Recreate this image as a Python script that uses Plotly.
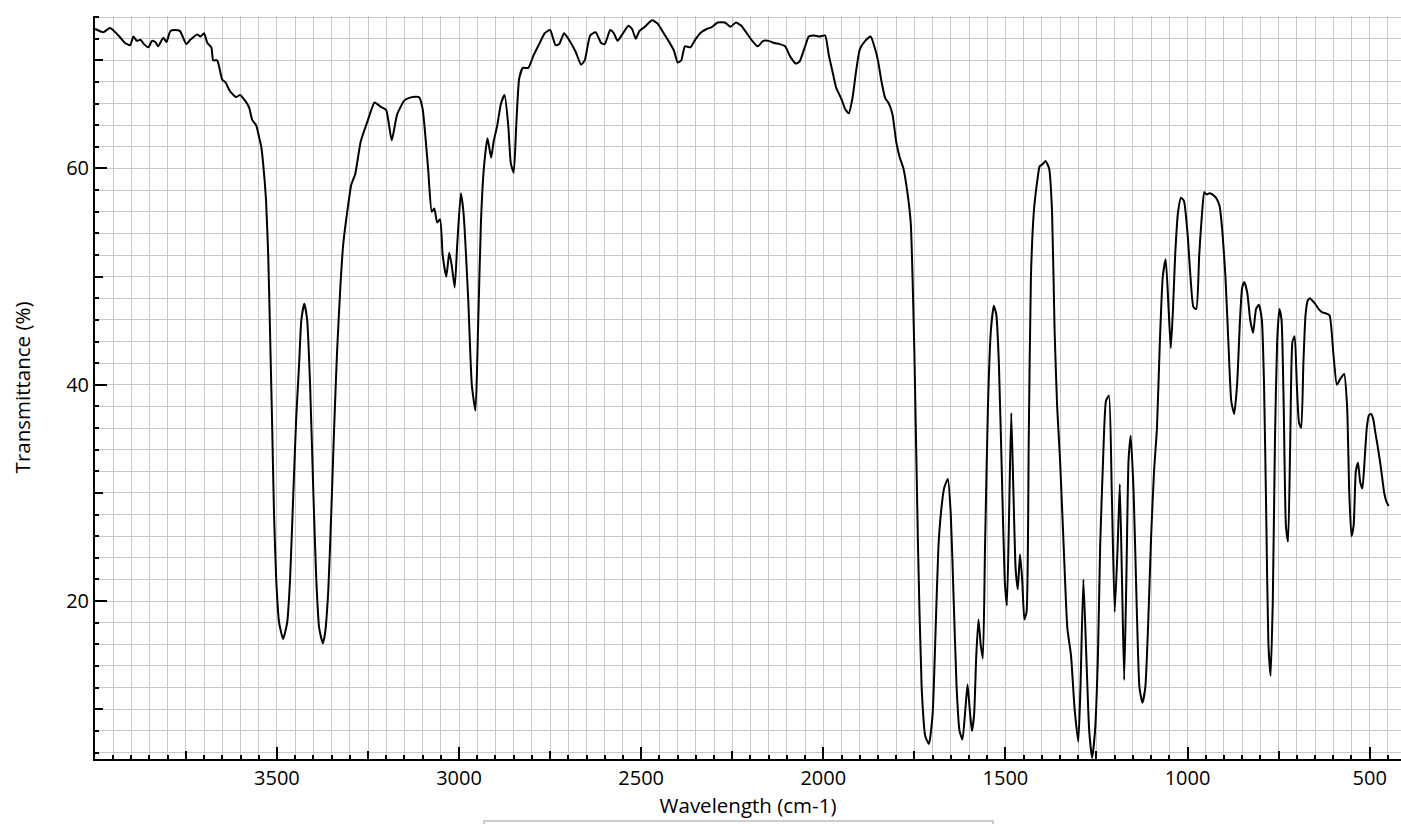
import plotly.graph_objects as go

# Infrared spectrum: wavenumber (cm-1) and transmittance (%)
wavenumber = [
    3999, 3977, 3958, 3935, 3917, 3903, 3894, 3885, 3875, 3865, 3853, 3843, 3834, 3826, 3812, 3803,
    3793, 3780, 3766, 3749, 3738, 3719, 3710, 3700, 3691, 3680, 3675, 3664, 3650, 3642, 3628, 3612,
    3601, 3593, 3582, 3576, 3568, 3557, 3549, 3543, 3538, 3530,
    3524, 3519, 3513, 3508, 3502, 3494, 3483, 3472, 3464, 3455, 3447, 3439, 3433, 3425, 3417, 3409,
    3400, 3392, 3384, 3374, 3368, 3359, 3351, 3343, 3335, 3326, 3318, 3307, 3296, 3285,
    3270, 3250, 3232, 3215, 3200, 3185, 3170, 3150, 3130, 3110, 3100, 3085, 3075, 3068, 3060, 3052,
    3045, 3035, 3027, 3020, 3012, 3005, 2995, 2988, 2975, 2965, 2955, 2948, 2940, 2932, 2922, 2912,
    2905, 2895, 2885, 2875, 2865, 2858, 2850, 2843, 2835, 2825, 2810, 2795, 2780, 2765, 2750, 2735,
    2725, 2712, 2700, 2680, 2665, 2655, 2640, 2625, 2610, 2600, 2585, 2575, 2565, 2550, 2535, 2525,
    2515, 2505, 2490, 2470, 2455, 2440, 2425, 2410, 2400, 2390, 2380, 2365, 2350, 2335, 2320, 2305,
    2290, 2270, 2255, 2240, 2225, 2210, 2195, 2180, 2165, 2150, 2135, 2120, 2105, 2090, 2075, 2065,
    2050, 2040, 2025, 2010, 1995, 1985, 1975, 1965, 1950, 1940, 1930, 1920, 1910, 1900, 1885, 1870,
    1860, 1850, 1840, 1830, 1820, 1810, 1800, 1790, 1780, 1770, 1760, 1750, 1740, 1730, 1720, 1710,
    1700, 1692, 1684, 1676, 1668, 1658, 1650, 1642, 1634, 1626, 1618, 1610, 1604, 1598, 1592, 1586,
    1580, 1574, 1568, 1562, 1556, 1548, 1540, 1532, 1525, 1518, 1510, 1502, 1496, 1490, 1484, 1478,
    1472, 1466, 1460, 1454, 1448, 1442, 1436, 1430, 1422, 1414, 1406, 1398, 1390, 1380, 1372, 1365,
    1358, 1350, 1340, 1330, 1320, 1310, 1300, 1294, 1286, 1278, 1270, 1262, 1254, 1246, 1240, 1232,
    1224, 1216, 1208, 1200, 1192, 1186, 1180, 1174, 1168, 1162, 1156, 1148, 1140, 1132, 1124, 1116,
    1108, 1100, 1092, 1084, 1076, 1068, 1060, 1052, 1046, 1040, 1034, 1026, 1018, 1010, 1000, 992,
    984, 976, 968, 960, 954, 948, 940, 932, 922, 912, 904, 896, 888, 880, 872, 864,
    856, 850, 844, 836, 828, 820, 812, 804, 796, 790, 784, 778, 772, 766, 760, 754,
    748, 742, 736, 730, 724, 718, 712, 706, 700, 694, 688, 682, 676, 670, 664, 658,
    652, 646, 640, 630, 620, 610, 600, 590, 580, 570, 562, 556, 550, 544, 538, 532,
    526, 520, 514, 508, 502, 496, 490, 484, 478, 472, 466, 460, 454, 448, 442, 436,
    430, 424, 418, 414,
]
transmittance = [
    72.9, 72.6, 73.0, 72.3, 71.6, 71.4, 72.2, 71.8, 71.9, 71.5, 71.2, 71.8, 71.7, 71.3, 72.1, 71.7,
    72.7, 72.8, 72.7, 71.5, 71.9, 72.4, 72.2, 72.5, 71.6, 71.2, 70.0, 70.0, 68.2, 68.0, 67.1, 66.6,
    66.8, 66.5, 66.0, 65.6, 64.5, 64.0, 62.9, 62.0, 60.5, 57.1,
    52.0, 45.0, 36.0, 28.0, 22.0, 18.0, 16.5, 18.0, 22.0, 30.0, 37.0, 42.0, 46.0, 47.5, 46.0, 40.0,
    30.0, 22.0, 17.5, 16.1, 17.0, 21.0, 28.0, 36.0, 43.0, 49.0, 53.0, 56.0, 58.5, 59.5,
    62.5, 64.5, 66.1, 65.7, 65.4, 62.6, 65.0, 66.3, 66.6, 66.6, 65.5, 60.0, 56.0, 56.3, 55.0, 55.3,
    52.0, 50.0, 52.2, 51.0, 49.0, 53.0, 57.7, 56.0, 48.0, 40.0, 37.6, 45.0, 55.0, 60.0, 62.8, 61.0,
    62.5, 64.0, 66.0, 66.8, 64.0, 60.5, 59.6, 64.0, 68.3, 69.3, 69.3, 70.5, 71.5, 72.5, 72.8, 71.4,
    71.5, 72.5, 72.0, 70.8, 69.6, 70.0, 72.3, 72.6, 71.6, 71.5, 72.8, 72.5, 71.8, 72.5, 73.2, 72.9,
    72.0, 72.7, 73.1, 73.7, 73.4, 72.6, 71.8, 70.9, 69.8, 70.0, 71.3, 71.2, 72.0, 72.6, 72.9, 73.1,
    73.5, 73.5, 73.1, 73.5, 73.2, 72.5, 71.8, 71.3, 71.8, 71.8, 71.6, 71.5, 71.3, 70.3, 69.7, 69.9,
    71.3, 72.2, 72.3, 72.2, 72.3, 70.5, 69.0, 67.5, 66.4, 65.5, 65.1, 66.5, 69.0, 71.0, 71.8, 72.2,
    71.3, 70.0, 68.0, 66.5, 66.0, 65.0, 62.5, 61.0, 60.0, 58.0, 55.0, 43.0, 25.0, 12.0, 7.5, 6.8,
    9.5, 17.0, 25.0, 28.5, 30.5, 31.3, 28.0, 20.0, 12.0, 8.0, 7.2, 10.0, 12.3, 10.0, 8.0, 9.5,
    15.0, 18.3, 16.0, 14.7, 25.0, 38.0, 45.0, 47.3, 46.5, 42.0, 32.0, 22.0, 19.6, 28.0, 37.4, 30.0,
    23.0, 21.1, 24.3, 22.0, 18.3, 19.0, 35.0, 50.0, 56.0, 58.5, 60.2, 60.4, 60.7, 60.0, 56.0, 45.0,
    38.0, 33.0, 25.0, 17.5, 15.0, 10.0, 7.0, 12.0, 22.0, 15.0, 8.0, 5.5, 8.0, 15.0, 25.0, 33.0,
    38.5, 39.0, 30.0, 19.0, 25.0, 30.8, 22.0, 12.7, 22.0, 33.0, 35.3, 30.0, 20.0, 12.0, 10.6, 12.0,
    18.0, 26.0, 32.0, 36.0, 44.0, 50.0, 51.6, 47.0, 43.4, 47.0, 52.0, 56.0, 57.3, 57.0, 54.0, 50.0,
    47.2, 47.0, 52.0, 56.0, 57.8, 57.6, 57.7, 57.6, 57.3, 56.5, 54.0, 50.0, 44.0, 38.5, 37.3, 40.0,
    46.0, 49.0, 49.5, 48.5, 46.0, 44.8, 47.0, 47.4, 46.0, 40.0, 28.0, 16.0, 13.1, 20.0, 35.0, 44.0,
    47.0, 46.0, 38.0, 27.0, 25.5, 35.0, 44.0, 44.5, 40.0, 36.5, 36.0, 42.0, 46.5, 47.8, 48.0, 47.8,
    47.6, 47.3, 47.0, 46.7, 46.6, 46.4, 43.0, 40.0, 40.6, 41.0, 38.0, 30.0, 26.0, 27.0, 32.0, 32.8,
    31.0, 30.4, 33.0, 36.0, 37.2, 37.3, 36.8, 35.5, 34.3, 33.0, 31.5, 30.0, 29.2, 28.8,
]

fig = go.Figure()
fig.add_trace(go.Scatter(
    x=wavenumber, y=transmittance, mode="lines",
    line=dict(color="black", width=2, shape="spline", smoothing=0.5),
    name="Transmittance", showlegend=False,
))
# helper trace for the secondary (intermediate tick) axes
fig.add_trace(go.Scatter(x=[], y=[], xaxis="x2", yaxis="y2", showlegend=False, hoverinfo="skip"))

x_range = [3999.5, 414]
y_range = [5.4, 74.1]
grid = "#c8c8c8"
font_family = "Open Sans, Noto Sans, sans-serif"

fig.update_layout(
    width=1401, height=824,
    margin=dict(l=95, r=0, t=16, b=65),
    paper_bgcolor="white", plot_bgcolor="white",
    font=dict(family=font_family, color="black"),
    showlegend=False,
    xaxis=dict(
        range=x_range, tickmode="linear", tick0=0, dtick=500,
        ticks="inside", ticklen=12, tickwidth=2, tickcolor="black",
        showline=True, linecolor="black", linewidth=2,
        showgrid=True, gridcolor=grid, gridwidth=1,
        zeroline=False, tickfont=dict(size=20),
        title=dict(text="Wavelength (cm-1)", font=dict(size=20.5), standoff=9),
        minor=dict(dtick=50, ticks="inside", ticklen=4, tickwidth=1.5, tickcolor="black",
                   showgrid=True, gridcolor=grid, gridwidth=1),
    ),
    yaxis=dict(
        range=y_range, tickmode="linear", tick0=0, dtick=20,
        ticks="inside", ticklen=12, tickwidth=2, tickcolor="black",
        showline=True, linecolor="black", linewidth=2,
        showgrid=True, gridcolor=grid, gridwidth=1,
        zeroline=False, tickfont=dict(size=20),
        title=dict(text="Transmittance (%)", font=dict(size=20.5), standoff=30),
        minor=dict(dtick=2, ticks="inside", ticklen=4, tickwidth=1.5, tickcolor="black",
                   showgrid=True, gridcolor=grid, gridwidth=1),
    ),
    xaxis2=dict(
        range=x_range, overlaying="x", anchor="y", side="bottom",
        tickmode="linear", tick0=0, dtick=250,
        ticks="inside", ticklen=8, tickwidth=2, tickcolor="black",
        showticklabels=False, showgrid=False, showline=False, zeroline=False,
    ),
    yaxis2=dict(
        range=y_range, overlaying="y", anchor="x", side="left",
        tickmode="linear", tick0=0, dtick=10,
        ticks="inside", ticklen=8, tickwidth=2, tickcolor="black",
        showticklabels=False, showgrid=False, showline=False, zeroline=False,
    ),
    shapes=[dict(
        type="rect", xref="paper", yref="paper",
        x0=0.2979, x1=0.6876, y0=-0.0834, y1=-0.2,
        line=dict(color="#bdbdbd", width=1.5), fillcolor="rgba(0,0,0,0)", layer="above",
    )],
)

fig.write_html("out.html")
